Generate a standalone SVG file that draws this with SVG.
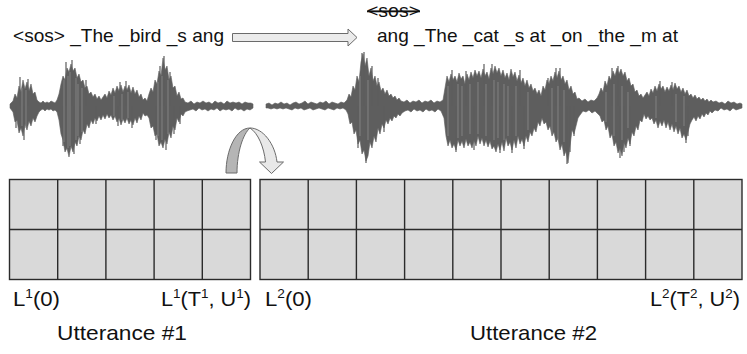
<svg xmlns="http://www.w3.org/2000/svg" width="747" height="354" viewBox="0 0 747 354">
<style>
.t{font-family:"Liberation Sans",Arial,sans-serif;fill:#111;}
.top{font-size:19px;}
.lab{font-size:21px;}
.sup{font-size:13px;}
.grid{fill:#d9d9d9;stroke:#2b2b2b;stroke-width:1.4;}
.gl{stroke:#2b2b2b;stroke-width:1.4;fill:none;}
.wave{fill:#5e5e5e;stroke:#5e5e5e;stroke-width:0.6;stroke-linejoin:round;}
.spk{stroke:#5e5e5e;stroke-width:1.2;fill:none;}
.tex{stroke:#868686;stroke-width:0.9;fill:none;}
.arr{stroke:#6b6b6b;stroke-width:1;stroke-linejoin:round;}
</style>
<rect width="747" height="354" fill="#fff"/>

<g id="text-utt1">
<text class="t top" x="13" y="42" textLength="211" lengthAdjust="spacingAndGlyphs">&lt;sos&gt; _The _bird _s ang</text>
</g>
<g id="text-utt2">
<text class="t top" x="367" y="17" textLength="53" lengthAdjust="spacingAndGlyphs" style="text-decoration:line-through">&lt;sos&gt;</text>
<text class="t top" x="377" y="42" textLength="301" lengthAdjust="spacingAndGlyphs">ang _The _cat _s at _on _the _m at</text>
</g>

<g id="wave1" transform="translate(0,106)">
<polygon class="wave" points="10,-2 13,-5 15,-12 17,-8 19,-20 21,-14 23,-26 25,-17 27,-24 29,-15 31,-22 33,-12 35,-14 37,-6 39,-4 41,-3 43,-5 45,-3 47,-4 49,-3 51,-5 53,-4 55,-3 57,-6 59,-12 61,-22 63,-30 65,-26 67,-38 69,-34 71,-42 73,-35 75,-38 77,-28 79,-32 81,-24 83,-26 85,-18 87,-20 89,-12 91,-14 93,-9 95,-12 97,-7 99,-10 101,-6 103,-9 105,-12 107,-8 109,-15 111,-11 113,-18 115,-13 117,-20 119,-15 121,-21 123,-14 125,-20 127,-16 129,-21 131,-13 133,-19 135,-12 137,-16 139,-9 141,-12 143,-6 145,-8 147,-5 149,-12 151,-18 153,-14 155,-26 157,-22 159,-35 161,-30 163,-48 165,-36 167,-40 169,-26 171,-30 173,-18 175,-20 177,-10 179,-14 181,-7 183,-8 185,-4 188,-3 191,-5 194,-2 197,-4 200,-3 203,-5 206,-3 209,-4 212,-2 215,-5 218,-3 221,-4 224,-2 227,-5 230,-3 233,-4 236,-3 239,-4 242,-2 245,-4 248,-3 251,-3 253,-2 253,2 250,4 247,3 244,5 241,3 238,4 235,2 232,5 229,3 226,4 223,3 220,5 217,2 214,4 211,3 208,5 205,3 202,4 199,2 196,5 193,3 190,4 187,5 185,6 183,10 181,8 179,16 177,12 175,24 173,20 171,32 169,26 167,38 165,33 163,42 161,36 159,40 157,28 155,30 153,20 151,22 149,12 147,9 145,10 143,7 141,14 139,10 137,17 135,12 133,19 131,14 129,18 127,12 125,17 123,13 121,19 119,12 117,16 115,10 113,14 111,9 109,12 107,8 105,13 103,9 101,14 99,10 97,15 95,12 93,18 91,14 89,22 87,18 85,28 83,24 81,34 79,30 77,40 75,36 73,46 71,40 69,51 67,42 65,46 63,34 61,28 59,14 57,6 55,4 53,5 51,3 49,4 47,3 45,5 43,3 41,4 39,6 37,10 35,16 33,12 31,20 29,15 27,24 25,18 23,30 21,22 19,27 17,14 15,16 13,6 10,2"/>
<path class="spk" d="M20,0V-29M24,0V34M28,0V-27M16,0V22M66,0V-44M63,0V40M72,0V-46M74,0V48M80,0V38M86,0V-26M96,0V18M120,0V-24M126,0V-25M132,0V22M118,0V20M156,0V34M160,0V-40M164,0V-50M166,0V44M170,0V-34M174,0V28M180,0V18"/>
<path class="tex" d="M22,-18V20M26,-16V22M64,-26V36M68,-30V42M70,-34V40M76,-28V34M78,-22V30M82,-18V26M114,-10V10M122,-12V14M128,-14V12M158,-24V30M162,-30V34M168,-26V28"/>
</g>

<g id="wave2" transform="translate(0,106)">
<polygon class="wave" points="266,-2 269,-3 272,-1 275,-3 278,-2 281,-4 284,-2 287,-3 290,-1 293,-3 296,-4 299,-2 302,-3 305,-5 308,-2 311,-4 314,-3 317,-2 320,-4 323,-3 326,-5 329,-2 332,-4 335,-3 338,-2 341,-4 344,-3 347,-6 349,-12 351,-9 353,-20 355,-16 357,-30 359,-24 361,-44 363,-52 365,-40 367,-48 369,-30 371,-38 373,-25 375,-30 377,-20 379,-24 381,-15 383,-18 385,-12 387,-16 389,-10 391,-12 393,-8 395,-10 397,-6 399,-8 401,-5 404,-4 407,-6 410,-3 413,-5 416,-4 419,-6 422,-3 425,-5 428,-4 431,-6 434,-3 437,-5 440,-4 443,-6 445,-18 447,-30 449,-24 451,-32 453,-26 455,-30 457,-24 459,-33 461,-27 463,-30 465,-22 467,-32 469,-26 471,-34 473,-28 475,-36 477,-30 479,-35 481,-28 483,-37 485,-30 487,-34 489,-27 491,-38 493,-32 495,-40 497,-33 499,-38 501,-30 503,-36 505,-28 507,-33 509,-26 511,-37 513,-29 515,-34 517,-25 519,-31 521,-23 523,-28 525,-20 527,-26 529,-18 531,-22 533,-15 535,-18 537,-12 539,-16 541,-10 543,-20 545,-16 547,-26 549,-22 551,-30 553,-25 555,-34 557,-28 559,-35 561,-26 563,-30 565,-22 567,-26 569,-16 571,-20 573,-12 575,-14 577,-7 579,-8 582,-5 585,-7 588,-4 591,-6 594,-5 597,-8 599,-12 601,-18 603,-14 605,-25 607,-20 609,-30 611,-26 613,-35 615,-30 617,-38 619,-32 621,-37 623,-30 625,-34 627,-25 629,-28 631,-20 633,-22 635,-14 637,-16 639,-10 641,-12 643,-8 645,-11 647,-14 649,-10 651,-17 653,-13 655,-20 657,-15 659,-22 661,-17 663,-20 665,-14 667,-19 669,-15 671,-21 673,-16 675,-23 677,-17 679,-20 681,-14 683,-18 685,-12 687,-16 689,-10 691,-12 693,-8 695,-11 697,-7 699,-9 701,-6 703,-8 705,-5 707,-7 709,-4 711,-6 713,-4 716,-5 719,-3 722,-4 725,-2 728,-5 731,-3 734,-4 737,-2 740,-3 742,-2 742,2 739,3 736,4 733,2 730,5 727,3 724,4 721,2 718,5 715,4 712,7 710,5 708,9 706,7 704,11 702,8 700,13 698,10 696,15 694,11 692,14 690,18 688,26 686,34 684,28 682,32 680,22 678,28 676,20 674,26 672,18 670,24 668,16 666,22 664,14 662,20 660,15 658,22 656,14 654,18 652,12 650,14 648,10 646,13 644,8 642,16 640,14 638,24 636,20 634,30 632,26 630,38 628,32 626,42 624,36 622,50 620,42 618,47 616,36 614,40 612,28 610,32 608,20 606,24 604,14 602,16 600,10 598,8 595,5 592,7 589,4 586,6 583,5 580,9 578,12 576,20 574,28 572,24 570,40 568,57 566,45 564,50 562,38 560,44 558,32 556,36 554,26 552,30 550,20 548,24 546,16 544,18 542,12 540,20 538,16 536,26 534,22 532,30 530,26 528,36 526,30 524,40 522,33 520,38 518,30 516,42 514,34 512,44 510,36 508,40 506,32 504,45 502,36 500,44 498,38 496,46 494,40 492,43 490,35 488,41 486,34 484,40 482,32 480,38 478,30 476,40 474,34 472,42 470,36 468,40 466,33 464,42 462,35 460,40 458,34 456,44 454,38 452,42 450,34 448,40 446,30 444,12 441,5 438,3 435,6 432,4 429,5 426,3 423,6 420,4 417,5 414,3 411,6 408,4 405,5 402,7 400,10 398,8 396,12 394,10 392,15 390,12 388,18 386,14 384,22 382,18 380,28 378,22 376,36 374,30 372,42 370,36 368,50 366,55 364,44 362,48 360,34 358,38 356,24 354,28 352,16 350,18 348,8 346,4 343,2 340,3 337,2 334,4 331,3 328,2 325,4 322,3 319,2 316,3 313,4 310,2 307,3 304,4 301,2 298,3 295,2 292,4 289,3 286,2 283,3 280,2 277,3 274,2 271,3 268,2 266,2"/>
<path class="spk" d="M362,0V-53M364,0V-54M366,0V57M358,0V42M372,0V-40M378,0V-28M384,0V26M452,0V-36M456,0V46M466,0V-35M474,0V44M484,0V-42M492,0V-42M500,0V47M512,0V47M520,0V-36M524,0V43M548,0V-28M556,0V-38M560,0V-38M567,0V58M570,0V46M574,0V30M612,0V-38M618,0V-40M620,0V52M624,0V46M630,0V40M660,0V-25M672,0V-24M686,0V37M688,0V30"/>
<path class="tex" d="M360,-30V30M368,-26V34M448,-20V30M458,-22V32M462,-20V30M470,-22V28M478,-24V28M486,-22V30M494,-26V34M498,-24V32M504,-22V34M508,-20V30M516,-20V30M528,-14V24M552,-18V28M558,-20V34M564,-16V36M606,-14V16M614,-22V30M622,-20V34M628,-14V22M656,-10V12M676,-12V16M684,-10V20"/>
</g>

<g id="grid1">
<rect class="grid" x="9.5" y="179.5" width="241" height="100"/>
<path class="gl" d="M57.7,179.5V279.5M105.9,179.5V279.5M154.1,179.5V279.5M202.3,179.5V279.5M9.5,229.5H250.5"/>
</g>
<g id="grid2">
<rect class="grid" x="260" y="179.5" width="482" height="100"/>
<path class="gl" d="M308.2,179.5V279.5M356.4,179.5V279.5M404.6,179.5V279.5M452.8,179.5V279.5M501,179.5V279.5M549.2,179.5V279.5M597.4,179.5V279.5M645.6,179.5V279.5M693.8,179.5V279.5M260,229.5H742"/>
</g>

<g id="connectors">
<path class="arr" fill="#ebebeb" d="M232.5,33.5 H348 V29 L357,37.5 L348,46 V41.5 H232.5 Z"/>
<path class="arr" fill="#b5b5b5" d="M226,173 C226,150 236,128 250,128 C243,134 237,152 237,173 Z"/>
<path class="arr" fill="#e8e8e8" d="M250,128 C263,128 275,144 277,162 L283.5,162 L271.5,173.5 L259.5,162 L265.5,162 C264,147 258,133 250,128 Z"/>
</g>

<g id="labels">
<text class="t lab" x="13" y="306" textLength="47" lengthAdjust="spacingAndGlyphs">L<tspan class="sup" dy="-8">1</tspan><tspan dy="8">(0)</tspan></text>
<text class="t lab" x="161" y="306" textLength="90" lengthAdjust="spacingAndGlyphs">L<tspan class="sup" dy="-8">1</tspan><tspan dy="8">(T</tspan><tspan class="sup" dy="-8">1</tspan><tspan dy="8">, U</tspan><tspan class="sup" dy="-8">1</tspan><tspan dy="8">)</tspan></text>
<text class="t lab" x="265" y="306" textLength="47" lengthAdjust="spacingAndGlyphs">L<tspan class="sup" dy="-8">2</tspan><tspan dy="8">(0)</tspan></text>
<text class="t lab" x="650" y="306" textLength="90" lengthAdjust="spacingAndGlyphs">L<tspan class="sup" dy="-8">2</tspan><tspan dy="8">(T</tspan><tspan class="sup" dy="-8">2</tspan><tspan dy="8">, U</tspan><tspan class="sup" dy="-8">2</tspan><tspan dy="8">)</tspan></text>
<text class="t lab" x="57" y="340" textLength="130" lengthAdjust="spacingAndGlyphs">Utterance #1</text>
<text class="t lab" x="470" y="340" textLength="127" lengthAdjust="spacingAndGlyphs">Utterance #2</text>
</g>
</svg>
